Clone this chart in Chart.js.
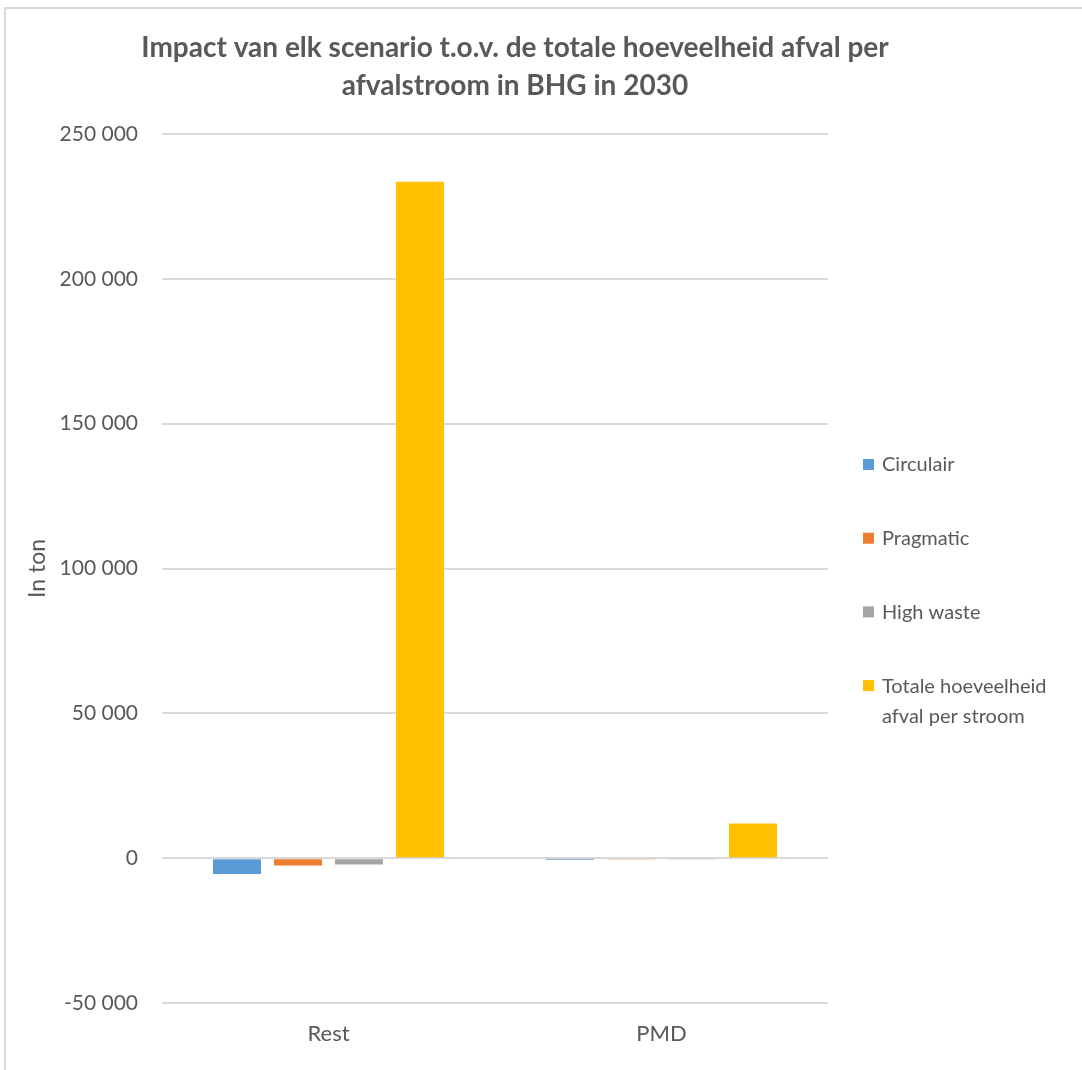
<!DOCTYPE html>
<html>
<head>
<meta charset="utf-8">
<title>Impact per afvalstroom</title>
<script src="https://cdn.jsdelivr.net/npm/chart.js@4.4.0/dist/chart.umd.min.js"></script>
<style>
  body { margin: 0; background: #fff; overflow: hidden; }
  #frame {
    position: absolute; left: 4px; top: 7px; width: 1200px; height: 1200px;
    border-top: 2px solid #d9d9d9; border-left: 2px solid #d9d9d9;
  }
  #chart { position: absolute; left: 0; top: 0; }
</style>
</head>
<body>
<div id="frame"></div>
<canvas id="chart" width="1082" height="1070"></canvas>
<script>
// afvalstromen en scenario's (ton, 2030)
const categories = ['Rest', 'PMD'];
const circulair = [-5500, -600];
const pragmatic = [-2500, -500];
const highWaste = [-2200, -500];
const totaal = [233500, 12000];

const titleLines = ['Impact van elk scenario t.o.v. de totale hoeveelheid afval per', 'afvalstroom in BHG in 2030'];
const yMin = -50000;
const yMax = 250000;
const yStep = 50000;

const textColor = '#595959';
const gridColor = '#d9d9d9';
const fontFamily = 'Lato, "Open Sans", sans-serif';

// "250 000" style thousands separator
function formatTon(v) {
  const s = Math.abs(v).toString().replace(/\B(?=(\d{3})+(?!\d))/g, ' ');
  return (v < 0 ? '-' : '') + s;
}

// title and right-hand legend drawn on top of the chart
const chartText = {
  id: 'chartText',
  afterDraw(chart) {
    const ctx = chart.ctx;
    ctx.save();
    ctx.fillStyle = textColor;
    ctx.textAlign = 'center';
    ctx.textBaseline = 'middle';
    ctx.font = 'bold 28px ' + fontFamily;
    titleLines.forEach((line, i) => ctx.fillText(line, 515, 48 + i * 38));

    ctx.font = '20px ' + fontFamily;
    ctx.textAlign = 'left';
    let y = 465;
    chart.data.datasets.forEach(ds => {
      // wrap long labels
      const words = ds.label.split(' ');
      const lines = [];
      let cur = '';
      words.forEach(w => {
        const test = cur ? cur + ' ' + w : w;
        if (ctx.measureText(test).width > 195 && cur) {
          lines.push(cur);
          cur = w;
        } else {
          cur = test;
        }
      });
      lines.push(cur);
      ctx.fillStyle = ds.backgroundColor;
      ctx.fillRect(863, y - 6, 11, 11);
      ctx.fillStyle = textColor;
      lines.forEach((l, i) => ctx.fillText(l, 882, y + i * 30));
      y += 73.7;
    });
    ctx.restore();
  }
};

new Chart(document.getElementById('chart'), {
  type: 'bar',
  data: {
    labels: categories,
    datasets: [
      { label: 'Circulair', data: circulair, backgroundColor: '#5b9bd5' },
      { label: 'Pragmatic', data: pragmatic, backgroundColor: '#ed7d31' },
      { label: 'High waste', data: highWaste, backgroundColor: '#a5a5a5' },
      { label: 'Totale hoeveelheid afval per stroom', data: totaal, backgroundColor: '#ffc000' }
    ]
  },
  options: {
    responsive: false,
    animation: false,
    layout: { padding: { left: 20, right: 254, top: 134, bottom: 27 } },
    datasets: {
      bar: { categoryPercentage: 0.733, barPercentage: 0.787 }
    },
    plugins: {
      legend: { display: false },
      title: { display: false },
      tooltip: { enabled: false }
    },
    scales: {
      x: {
        grid: { display: false },
        border: { display: false },
        ticks: { color: textColor, font: { family: fontFamily, size: 22 }, padding: 10 },
        afterFit(scale) { scale.height = 40; }
      },
      y: {
        min: yMin,
        max: yMax,
        grid: { color: gridColor, lineWidth: 2, drawTicks: false },
        border: { display: false },
        ticks: {
          stepSize: yStep,
          color: textColor,
          font: { family: fontFamily, size: 21 },
          padding: 24,
          callback: v => formatTon(v)
        },
        title: {
          display: true,
          text: 'In ton',
          color: textColor,
          font: { family: fontFamily, size: 23 }
        },
        afterFit(scale) { scale.width = 142; }
      }
    }
  },
  plugins: [chartText]
});
</script>
</body>
</html>
